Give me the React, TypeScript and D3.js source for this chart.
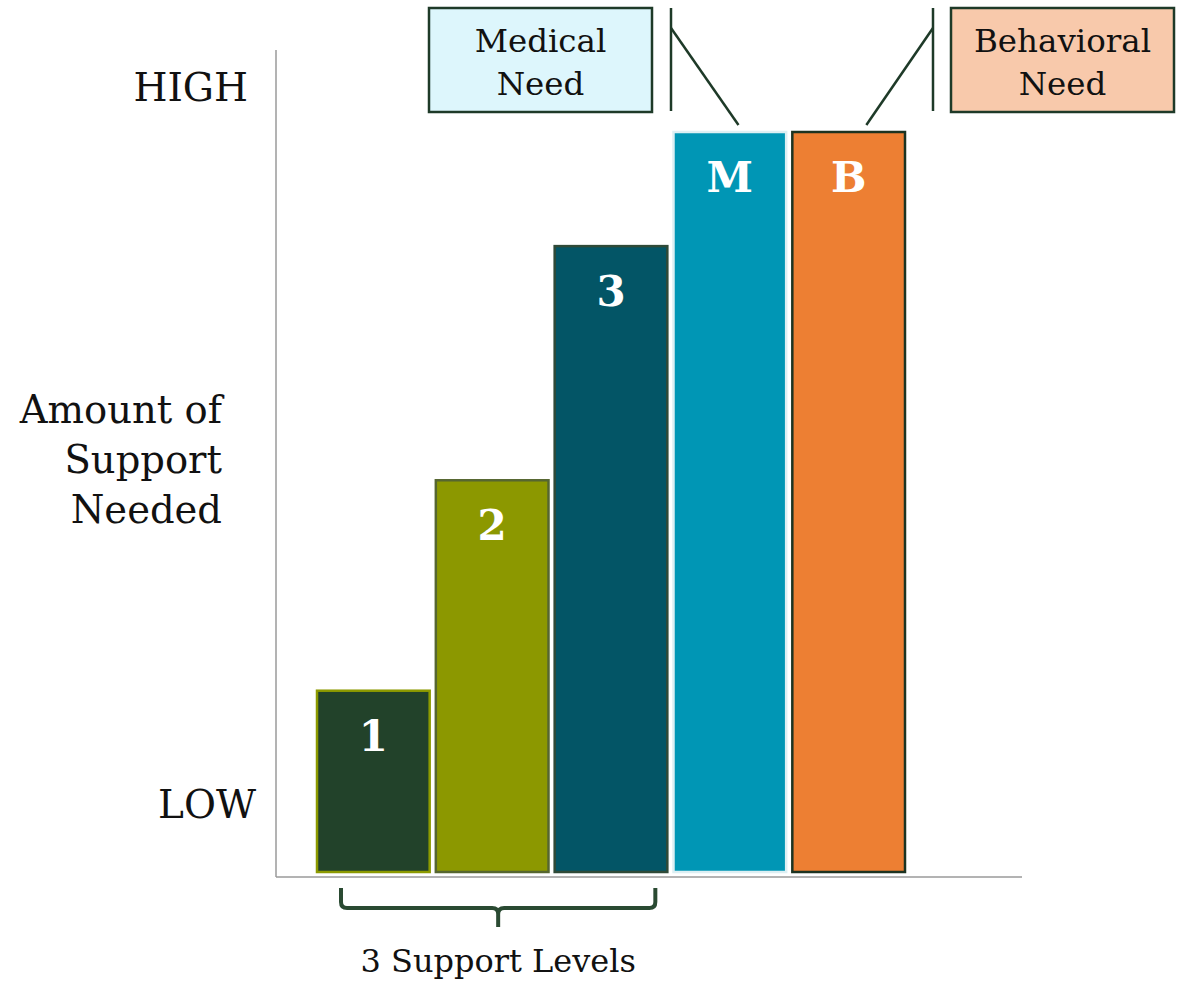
import React from "react";
import * as d3 from "d3";

// Support tiers and the two add-on needs
const categories = ["1", "2", "3", "M", "B"];
const supportAmount = [24.6, 53, 84.6, 100, 100];
const barFills = ["#22422A", "#8C9800", "#035566", "#0096B5", "#ED7F33"];
const barStrokes = ["#8C9A00", "#566630", "#2F4A38", "#DDEFF3", "#1C3321"];
const axisLabels = ["HIGH", "LOW"];
const axisTitle = ["Amount of", "Support", "Needed"];
const bracketLabel = "3 Support Levels";
const callouts = [
  { lines: ["Medical", "Need"], target: "M", fill: "#DDF6FC", side: "left" },
  { lines: ["Behavioral", "Need"], target: "B", fill: "#F8C9AB", side: "right" },
];

const W = 1182;
const H = 983;
const FONT = "Georgia, 'DejaVu Serif', serif";
const INK = "#1E3A28";

export default function App() {
  const x = d3.scaleBand<string>().domain(categories).range([316, 906]).paddingInner(0.035);
  const y = d3.scaleLinear().domain([0, 100]).range([872, 131]);
  const bw = x.bandwidth();

  // bracket under the three support levels
  const bx0 = (x("1") as number) + 25;
  const bx1 = (x("3") as number) + bw - 13;
  const bmid = (bx0 + bx1) / 2;
  const top = 888, mid = 908, tip = 927, r = 6;
  const br = d3.path();
  br.moveTo(bx0, top);
  br.lineTo(bx0, mid - r);
  br.quadraticCurveTo(bx0, mid, bx0 + r, mid);
  br.lineTo(bmid - r, mid);
  br.quadraticCurveTo(bmid, mid, bmid, mid + r);
  br.lineTo(bmid, tip);
  br.moveTo(bmid, mid + r);
  br.quadraticCurveTo(bmid, mid, bmid + r, mid);
  br.lineTo(bx1 - r, mid);
  br.quadraticCurveTo(bx1, mid, bx1, mid - r);
  br.lineTo(bx1, top);

  return (
    <svg width={W} height={H} style={{ display: "block", position: "absolute", left: 0, top: 0 }} fontFamily={FONT}>
      <rect width={W} height={H} fill="#fff" />

      {/* axes */}
      <line x1={276} x2={276} y1={50} y2={877} stroke="#9A9A9A" strokeWidth={1.5} />
      <line x1={276} x2={1022} y1={877} y2={877} stroke="#9A9A9A" strokeWidth={1.5} />

      {/* axis end labels and title */}
      <text x={248} y={101} textAnchor="end" fontSize={39} fill="#111">{axisLabels[0]}</text>
      <text x={256} y={818} textAnchor="end" fontSize={39} fill="#111">{axisLabels[1]}</text>
      {axisTitle.map((t, i) => (
        <text key={t} x={222} y={423 + i * 50} textAnchor="end" fontSize={38.5} fill="#111">{t}</text>
      ))}

      {/* bars */}
      {categories.map((c, i) => (
        <g key={c}>
          <rect
            x={(x(c) as number) + 1}
            y={y(supportAmount[i]) + 1}
            width={bw - 2}
            height={y(0) - y(supportAmount[i]) - 1}
            fill={barFills[i]}
            stroke={barStrokes[i]}
            strokeWidth={2.5}
          />
          <text
            x={(x(c) as number) + bw / 2}
            y={y(supportAmount[i]) + 61}
            textAnchor="middle"
            fontSize={42}
            fontWeight="bold"
            fill="#fff"
          >
            {c}
          </text>
        </g>
      ))}

      {/* callouts */}
      {callouts.map((co) => {
        const i = categories.indexOf(co.target);
        const barTop = y(supportAmount[i]);
        const left = co.side === "left";
        const boxW = 223;
        const boxX = left ? 429 : 951;
        const lineX = left ? 671 : 933;
        const targetX = left ? (x(co.target) as number) + 66 : (x(co.target) as number) + 75;
        return (
          <g key={co.target}>
            <rect x={boxX} y={8} width={boxW} height={104} fill={co.fill} stroke={INK} strokeWidth={2.5} />
            {co.lines.map((l, k) => (
              <text key={l} x={boxX + boxW / 2} y={52 + k * 43} textAnchor="middle" fontSize={32.5} fill="#111">{l}</text>
            ))}
            <line x1={lineX} x2={lineX} y1={8} y2={111} stroke={INK} strokeWidth={2.5} />
            <line x1={lineX} y1={28} x2={targetX} y2={barTop - 6} stroke={INK} strokeWidth={2.5} />
          </g>
        );
      })}

      {/* bracket */}
      <path d={br.toString()} fill="none" stroke="#2A4A32" strokeWidth={4} />
      <text x={bmid} y={972} textAnchor="middle" fontSize={32} fill="#111">{bracketLabel}</text>
    </svg>
  );
}
